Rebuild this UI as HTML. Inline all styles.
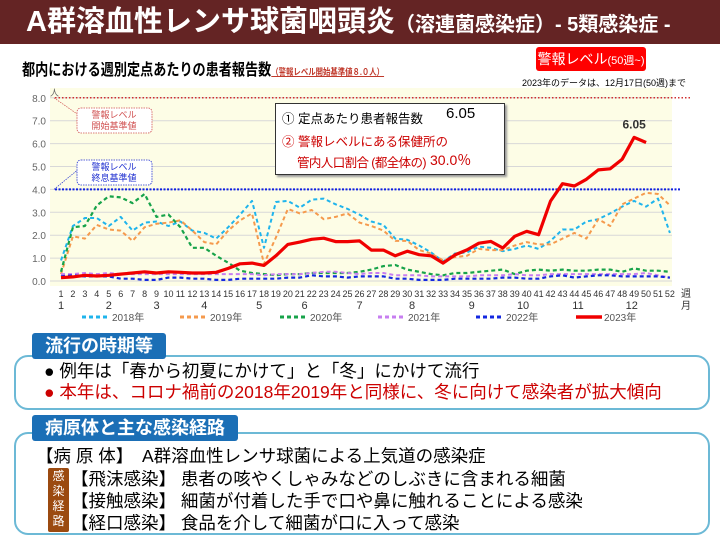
<!DOCTYPE html>
<html><head><meta charset="utf-8"><style>
body{margin:0;width:720px;height:540px;overflow:hidden;background:#fff;font-family:"Liberation Sans","Noto Sans CJK JP",sans-serif;position:relative}
.abs{position:absolute;white-space:nowrap}
.tab{position:absolute;background:#1b6fb6;color:#fff;font-weight:bold;font-size:18px;line-height:26px;padding:0 13px;border-radius:3px}
.box{position:absolute;border:2px solid #6cb9d6;border-radius:14px;background:#fff}
.ln{position:absolute;font-size:17.5px;line-height:20px;white-space:nowrap}
</style></head><body>
<div class="abs" style="left:0;top:0;width:720px;height:44px;background:#642424"></div>
<div class="abs" style="left:26px;top:5px;color:#fff;font-weight:bold;font-size:29px;line-height:34px">A群溶血性レンサ球菌咽頭炎<span style="font-size:20px">（溶連菌感染症）- 5類感染症 -</span></div>
<div class="abs" style="left:22px;top:56px;font-weight:bold;font-size:16px;transform:scaleX(0.82);transform-origin:0 0">都内における週別定点あたりの患者報告数<span style="font-size:9px;color:#c0392b;text-decoration:underline">（警報レベル開始基準値８.０人）</span></div>
<div class="abs" style="left:536px;top:47px;width:110px;height:24px;background:#f00;color:#fff;border-radius:3px;font-size:14px;line-height:24px;text-align:center">警報レベル<span style="font-size:11px">(50週~)</span></div>
<div class="abs" style="left:522px;top:76px;font-size:9px">2023年のデータは、12月17日(50週)まで</div>

<svg id="chart" class="abs" style="left:0;top:80px" width="720" height="250" viewBox="0 80 720 250" xmlns="http://www.w3.org/2000/svg" font-family="Liberation Sans, Noto Sans CJK JP, sans-serif"></svg>

<div class="abs" style="left:275px;top:103px;width:228px;height:70px;background:#fff;border:1px solid #333;box-shadow:2px 2px 2px #999;font-size:12.5px">
<div style="position:absolute;left:6px;top:4px">① 定点あたり患者報告数</div>
<div style="position:absolute;left:170px;top:1px;font-size:15px">6.05</div>
<div style="position:absolute;left:6px;top:27px;color:#c00">② 警報レベルにある保健所の</div>
<div style="position:absolute;left:21px;top:48px;color:#c00;letter-spacing:-0.6px">管内人口割合 (都全体の)</div>
<div style="position:absolute;left:154px;top:46px;color:#c00;font-size:14px">30.0％</div>
</div>

<div class="box" style="left:14px;top:355px;width:692px;height:51px"></div>
<div class="tab" style="left:32px;top:333px">流行の時期等</div>
<div class="ln" style="left:44px;top:361px">● 例年は「春から初夏にかけて」と「冬」にかけて流行</div>
<div class="ln" style="left:44px;top:382px;color:#c00">● 本年は、コロナ禍前の2018年2019年と同様に、冬に向けて感染者が拡大傾向</div>

<div class="box" style="left:14px;top:432px;width:692px;height:99px"></div>
<div class="tab" style="left:32px;top:415px">病原体と主な感染経路</div>
<div class="ln" style="left:36px;top:446px">【病 原 体】　A群溶血性レンサ球菌による上気道の感染症</div>
<div class="abs" style="left:48px;top:468px;width:21px;height:63px;background:#9b4a10;color:#fff;font-size:12px;line-height:15px;text-align:center;white-space:normal;border-radius:2px;padding-top:1px">感<br>染<br>経<br>路</div>
<div class="ln" style="left:71px;top:469px">【飛沫感染】 患者の咳やくしゃみなどのしぶきに含まれる細菌</div>
<div class="ln" style="left:71px;top:491px">【接触感染】 細菌が付着した手で口や鼻に触れることによる感染</div>
<div class="ln" style="left:71px;top:513px">【経口感染】 食品を介して細菌が口に入って感染</div>

<script>
const weeks=[1,2,3,4,5,6,7,8,9,10,11,12,13,14,15,16,17,18,19,20,21,22,23,24,25,26,27,28,29,30,31,32,33,34,35,36,37,38,39,40,41,42,43,44,45,46,47,48,49,50,51,52];
const yTicks=[0,1,2,3,4,5,6,7,8];
const months=["1","2","3","4","5","6","7","8","9","10","11","12"];
const monthWeeks=[1,5,9,13,17.6,21.4,26,30.4,35.4,39.7,44.3,48.8];
const s2018=[0.9,2.4,2.75,2.75,2.4,2.8,2.2,2.55,2.6,2.4,2.6,2.2,2.1,1.85,2.35,2.9,3.5,1.45,3.45,3.5,3.2,3.55,3.6,3.35,3.15,2.9,2.6,2.45,1.85,1.8,1.55,1.25,0.85,1.2,1.25,1.5,1.45,1.3,1.4,1.55,1.4,1.75,2.25,2.25,2.6,2.7,2.95,3.25,3.5,3.25,3.6,2.1];
const s2019=[0.3,1.95,1.85,2.45,2.25,2.2,1.75,2.35,2.5,2.55,2.65,2.2,1.7,1.6,2.2,2.65,2.95,0.75,1.9,3.15,2.95,3.1,2.7,2.8,2.95,2.55,2.4,2.2,1.75,1.75,1.35,1.2,0.9,1.05,1.1,1.4,1.35,1.35,1.55,1.7,1.6,1.6,1.85,2.1,1.85,2.7,2.4,3.35,3.6,3.85,3.8,3.3];
const s2020=[0.4,2.35,2.4,3.3,3.7,3.65,3.4,3.8,2.8,2.9,2.35,1.45,1.45,1.1,0.8,0.45,0.35,0.3,0.25,0.3,0.3,0.35,0.35,0.35,0.35,0.4,0.5,0.65,0.7,0.5,0.4,0.3,0.25,0.35,0.35,0.4,0.45,0.5,0.3,0.45,0.5,0.45,0.5,0.45,0.45,0.5,0.5,0.4,0.55,0.45,0.45,0.4];
const s2021=[0.3,0.3,0.35,0.3,0.35,0.3,0.3,0.3,0.3,0.3,0.3,0.3,0.3,0.3,0.3,0.3,0.3,0.25,0.3,0.3,0.3,0.35,0.4,0.4,0.35,0.3,0.35,0.35,0.25,0.25,0.25,0.2,0.2,0.2,0.2,0.25,0.25,0.25,0.3,0.25,0.25,0.3,0.3,0.3,0.3,0.3,0.3,0.3,0.3,0.35,0.25,0.15];
const s2022=[0.2,0.25,0.2,0.2,0.2,0.1,0.1,0.05,0.05,0.15,0.15,0.1,0.1,0.05,0.05,0.1,0.1,0.1,0.1,0.15,0.15,0.25,0.2,0.2,0.15,0.2,0.2,0.2,0.1,0.1,0.05,0.05,0.05,0.1,0.1,0.1,0.1,0.15,0.15,0.1,0.1,0.2,0.25,0.15,0.2,0.25,0.25,0.2,0.2,0.2,0.2,0.15];
const s2023=[0.15,0.18,0.25,0.22,0.25,0.3,0.35,0.4,0.35,0.4,0.38,0.35,0.35,0.38,0.55,0.75,0.78,0.68,1.1,1.6,1.7,1.82,1.87,1.72,1.72,1.75,1.35,1.35,1.1,1.3,1.15,1.1,0.78,1.14,1.36,1.65,1.73,1.44,1.95,2.17,2.02,3.49,4.25,4.15,4.44,4.85,4.9,5.32,6.27,6.05];
const alertStart=8, alertEnd=4, latestLabel="6.05";

const NS="http://www.w3.org/2000/svg";
const svg=document.getElementById('chart');
const X=w=>61+(w-1)*11.94;
const Y=v=>281-v*22.9;
function el(t,a,p){const e=document.createElementNS(NS,t);for(const k in a)e.setAttribute(k,a[k]);(p||svg).appendChild(e);return e;}

const bg=el('rect',{x:50,y:88,width:622,height:198,fill:'#fdfde6'});


yTicks.forEach(t=>{
  const g=el('line',{x1:50,x2:672,y1:Y(t),y2:Y(t),stroke:'#d8d8d8','stroke-width':1});
  
  
  const l=el('text',{x:46,y:Y(t)+4,'font-size':10,fill:'#666','text-anchor':'end'});
  l.textContent=t.toFixed(1);
  
  
});
const unit=el('text',{x:50,y:96,'font-size':9,fill:'#666'});unit.textContent='人';



weeks.forEach(w=>{
  const t=el('text',{x:X(w),y:297,'font-size':9,fill:'#333','text-anchor':'middle'});
  t.textContent=w;
  
  
});
months.forEach((m,i)=>{
  const t=el('text',{x:X(monthWeeks[i]),y:309,'font-size':11,fill:'#333','text-anchor':'middle'});
  t.textContent=m;
  
  
});
[['週',297],['月',309]].forEach(([s,y])=>{const t=el('text',{x:686,y:y,'font-size':10,fill:'#333','text-anchor':'middle'});t.textContent=s;
  
  });

const rl=el('line',{x1:55,x2:690,y1:Y(alertStart),y2:Y(alertStart),stroke:'#d03030','stroke-width':1.5,'stroke-dasharray':'1.5,2'});


const bl=el('line',{x1:55,x2:680,y1:Y(alertEnd),y2:Y(alertEnd),stroke:'#1020e0','stroke-width':2,'stroke-dasharray':'2,1.5'});



function callout(y,col,txt,ty,name){
  const p=el('path',{d:`M${X(1)-7},${ty} L80,${y+8} L77,${y+14}`,fill:'none',stroke:col,'stroke-width':0.7,'stroke-dasharray':'1.5,1'});
  const r=el('rect',{x:77,y:y,width:75,height:25,rx:4,fill:'#fff',stroke:col,'stroke-width':0.8,'stroke-dasharray':'1.5,1'});
  
  
  txt.forEach((s,i)=>{const t=el('text',{x:114,y:y+10+i*11,'font-size':9,fill:col,'text-anchor':'middle'});t.textContent=s;});
}
callout(108,'#d05050',['警報レベル','開始基準値'],Y(alertStart),'alert-start-callout');
callout(160,'#2030d0',['警報レベル','終息基準値'],Y(alertEnd),'alert-end-callout');

const series=[[s2018,'#1fb4ec','4,3',2,'line-2018'],[s2019,'#f59a4d','4,3',2,'line-2019'],[s2020,'#17a34a','4,3',2.2,'line-2020'],[s2021,'#c77ef0','4,3',2,'line-2021'],[s2022,'#1428e0','4,3',2.2,'line-2022'],[s2023,'#f00000','',3.2,'line-2023']];
series.forEach(([d,c,da,w,n])=>{
  const pts=d.map((v,i)=>X(weeks[i]).toFixed(1)+','+Y(v).toFixed(1)).join(' ');
  const p=el('polyline',{points:pts,fill:'none',stroke:c,'stroke-width':w,'stroke-dasharray':da,'stroke-linejoin':'round'});
  
  
});
const li=s2023.length-2;
const pk=el('text',{x:X(weeks[li]),y:Y(s2023[li])-9,'font-size':12,'font-weight':'bold',fill:'#333','text-anchor':'middle'});
pk.textContent=latestLabel;



const legend=[['2018年','#1fb4ec',82,'4,3',3],['2019年','#f59a4d',180,'4,3',3],['2020年','#17a34a',280,'4,3',3],['2021年','#c77ef0',378,'4,3',3],['2022年','#1428e0',476,'4,3',3],['2023年','#f00000',576,'',3.5]];
legend.forEach(([n,c,x,da,w])=>{
  const l=el('line',{x1:x,x2:x+26,y1:317,y2:317,stroke:c,'stroke-width':w,'stroke-dasharray':da});
  
  
  const t=el('text',{x:x+(da?30:28),y:321,'font-size':10,fill:'#555'});
  t.textContent=n;
  
  
});
</script>
</body></html>
